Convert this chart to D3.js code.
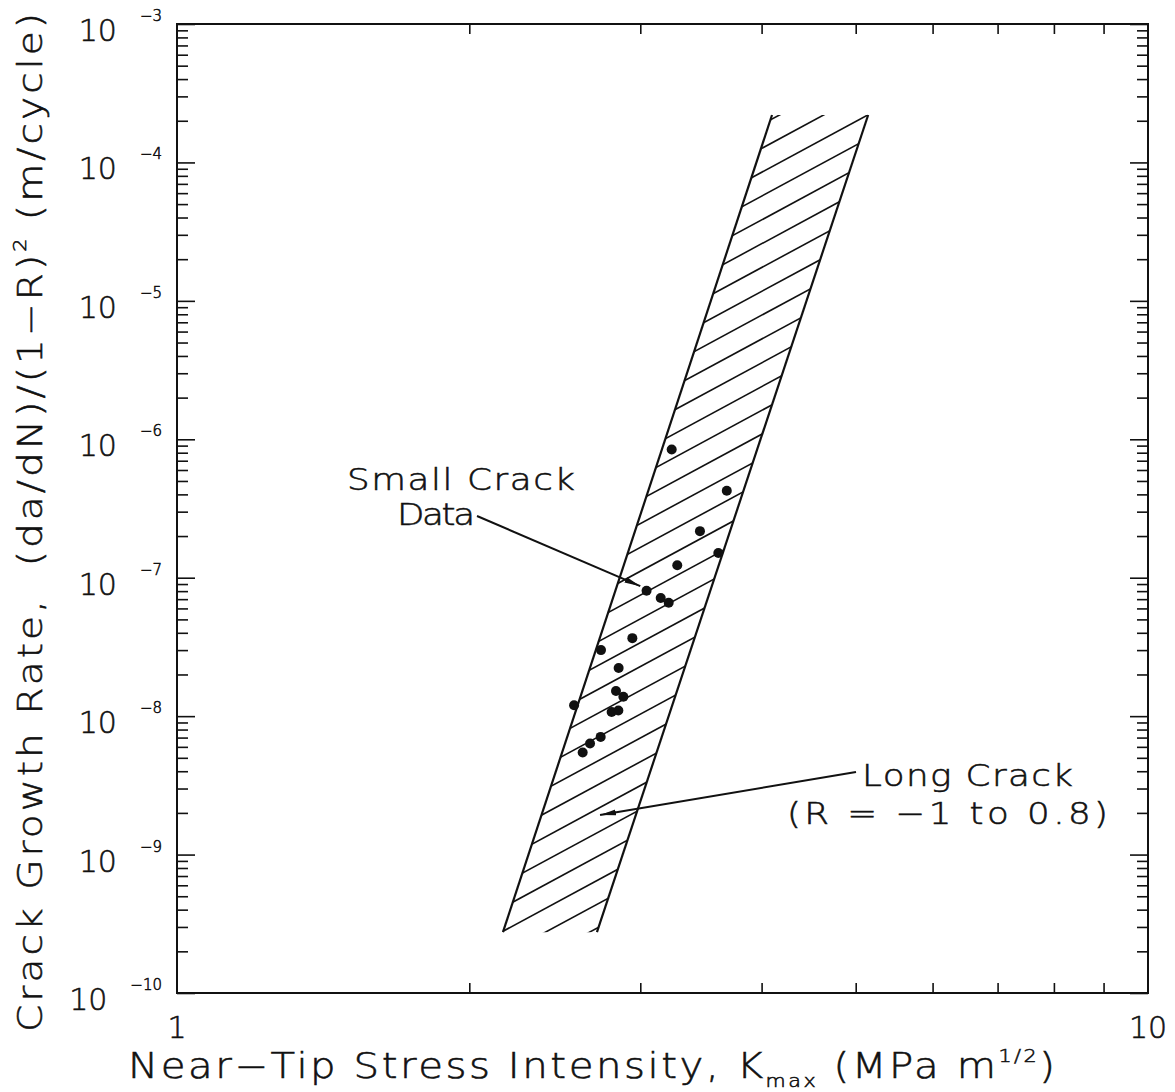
<!DOCTYPE html>
<html>
<head>
<meta charset="utf-8">
<script src="https://cdn.jsdelivr.net/npm/d3@7"></script>
<style>
  body { margin: 0; background: #fff; }
  svg text { font-family: "DejaVu Sans", sans-serif; font-weight: 200; fill: #111; stroke: #111; stroke-width: 0.55; white-space: pre; }
</style>
</head>
<body>
<svg id="chart" width="1175" height="1092"></svg>
<script>
// Small-crack measurements: near-tip K_max (MPa m^1/2) and normalised growth rate (m/cycle)
const smallCrackK = [3.232, 3.683, 3.456, 3.610, 3.275, 3.045, 3.149, 3.209, 2.944, 2.733,
                     2.850, 2.832, 2.882, 2.564, 2.803, 2.848, 2.731, 2.663, 2.617];
const smallCrackRate = [8.45e-7, 4.25e-7, 2.17e-7, 1.51e-7, 1.23e-7, 8.04e-8, 7.13e-8, 6.59e-8, 3.66e-8, 3.00e-8,
                        2.23e-8, 1.52e-8, 1.38e-8, 1.20e-8, 1.07e-8, 1.10e-8, 7.08e-9, 6.35e-9, 5.47e-9];

// Long-crack scatter band (R = -1 to 0.8): rate limits and the K of each boundary at those limits
const bandRate = [2.75e-10, 2.2e-4];
const bandLowerK = [2.166, 4.10];
const bandUpperK = [2.707, 5.15];

// Axis ticks
const xMajorTicks = [1, 10];
const xTickLabels = ["1", "10"];
const xMinorTicks = [2, 3, 4, 5, 6, 7, 8, 9];
const yExponents = [-10, -9, -8, -7, -6, -5, -4, -3];
const yMantissas = [2, 3, 4, 5, 6, 7, 8, 9];

// Callout tips, in data units
const smallCrackTip = { K: 3.0, rate: 8.69e-8 };
const longCrackTip = { K: 2.727, rate: 1.93e-9 };

const svg = d3.select("#chart");
const plotL = 177, plotR = 1148, plotT = 24, plotB = 993;

const x = d3.scaleLog().domain([1, 10]).range([plotL, plotR]);
const y = d3.scaleLog().domain([1e-10, 1e-3]).range([plotB, plotT]);

const ink = "#111";
const widen = 1.15;   // horizontal stretch giving the wide plotter lettering

// ---- hatched band ----
const bandPts = [
  [x(bandLowerK[0]), y(bandRate[0])],
  [x(bandLowerK[1]), y(bandRate[1])],
  [x(bandUpperK[1]), y(bandRate[1])],
  [x(bandUpperK[0]), y(bandRate[0])]
];
const defs = svg.append("defs");
defs.append("clipPath").attr("id", "bandClip")
  .append("polygon").attr("points", bandPts.map(p => p.join(",")).join(" "));

// hatch: parallel strokes rising to the right, clipped to the band
const hatchSlope = -0.54, hatchGap = 23.82;
const hatchX = 545, hatchY = 813.3;
const hatchG = svg.append("g").attr("clip-path", "url(#bandClip)");
for (let k = -40; k <= 40; k++) {
  const c = hatchY + k * hatchGap;
  hatchG.append("line")
    .attr("x1", plotL).attr("y1", c + hatchSlope * (plotL - hatchX))
    .attr("x2", plotR).attr("y2", c + hatchSlope * (plotR - hatchX))
    .attr("stroke", ink).attr("stroke-width", 1.6);
}
// band boundaries
svg.append("line").attr("x1", bandPts[0][0]).attr("y1", bandPts[0][1])
  .attr("x2", bandPts[1][0]).attr("y2", bandPts[1][1]).attr("stroke", ink).attr("stroke-width", 2.2);
svg.append("line").attr("x1", bandPts[3][0]).attr("y1", bandPts[3][1])
  .attr("x2", bandPts[2][0]).attr("y2", bandPts[2][1]).attr("stroke", ink).attr("stroke-width", 2.2);

// ---- frame and ticks ----
svg.append("rect").attr("x", plotL).attr("y", plotT)
  .attr("width", plotR - plotL).attr("height", plotB - plotT)
  .attr("fill", "none").attr("stroke", ink).attr("stroke-width", 2);

function styleAxis(g) {
  g.select(".domain").remove();
  g.selectAll(".tick line").attr("stroke", ink).attr("stroke-width", 1.6);
  g.selectAll(".tick text").remove();
}
svg.append("g").attr("transform", `translate(0,${plotB})`)
  .call(d3.axisTop(x).tickValues(xMinorTicks).tickSize(10)).call(styleAxis);
svg.append("g").attr("transform", `translate(0,${plotT})`)
  .call(d3.axisBottom(x).tickValues(xMinorTicks).tickSize(10)).call(styleAxis);

const yMajor = yExponents.map(e => Math.pow(10, e));
const yMinor = [];
yExponents.slice(0, -1).forEach(e => yMantissas.forEach(m => yMinor.push(m * Math.pow(10, e))));

svg.append("g").attr("transform", `translate(${plotL},0)`)
  .call(d3.axisRight(y).tickValues(yMinor).tickSize(11)).call(styleAxis);
svg.append("g").attr("transform", `translate(${plotL},0)`)
  .call(d3.axisRight(y).tickValues(yMajor).tickSize(18)).call(styleAxis);
svg.append("g").attr("transform", `translate(${plotR},0)`)
  .call(d3.axisLeft(y).tickValues(yMinor).tickSize(11)).call(styleAxis);
svg.append("g").attr("transform", `translate(${plotR},0)`)
  .call(d3.axisLeft(y).tickValues(yMajor).tickSize(18)).call(styleAxis);

// ---- tick labels ----
xMajorTicks.forEach((v, i) => {
  svg.append("text").attr("x", x(v)).attr("y", 1038)
    .attr("text-anchor", "middle").attr("font-size", 30).text(xTickLabels[i]);
});
yExponents.forEach(e => {
  const g = svg.append("g").attr("transform", `translate(162,${y(Math.pow(10, e))})`);
  const ex = g.append("text").attr("x", 0).attr("y", -3).attr("text-anchor", "end")
    .attr("font-size", 15).text("\u2212" + Math.abs(e));
  const w = ex.node().getComputedTextLength();
  g.append("text").attr("x", -w - 23).attr("y", 17).attr("text-anchor", "end")
    .attr("font-size", 30).text("10");
});

// ---- axis titles ----
const xt = svg.append("text").attr("transform", `translate(128,1078) scale(${widen},1)`)
  .attr("font-size", 35).attr("textLength", 927 / widen).attr("lengthAdjust", "spacing");
xt.append("tspan").text("Near\u2212Tip Stress Intensity, K");
xt.append("tspan").attr("font-size", 18).attr("dy", 9).text("max");
xt.append("tspan").attr("dy", -9).text(" (MPa m");
xt.append("tspan").attr("font-size", 18).attr("dy", -16).text("1/2");
xt.append("tspan").attr("dy", 16).text(")");

const yt = svg.append("text").attr("transform", `translate(42,1032) rotate(-90) scale(${widen},1)`)
  .attr("font-size", 34).attr("textLength", 1019 / widen).attr("lengthAdjust", "spacing");
yt.append("tspan").text("Crack Growth Rate,  (da/dN)/(1\u2212R)");
yt.append("tspan").attr("font-size", 18).attr("dy", -16).text("2");
yt.append("tspan").attr("dy", 16).text(" (m/cycle)");

// ---- small-crack points ----
svg.append("g").selectAll("circle")
  .data(d3.zip(smallCrackK, smallCrackRate))
  .join("circle")
  .attr("cx", d => x(d[0])).attr("cy", d => y(d[1])).attr("r", 5)
  .attr("fill", ink);

// ---- callouts ----
defs.append("marker").attr("id", "head").attr("viewBox", "0 0 16 8")
  .attr("refX", 16).attr("refY", 4).attr("markerWidth", 16).attr("markerHeight", 8)
  .attr("markerUnits", "userSpaceOnUse").attr("orient", "auto")
  .append("path").attr("d", "M0,1 L16,4 L0,7 Z").attr("fill", ink);

svg.append("line").attr("x1", 477).attr("y1", 516)
  .attr("x2", x(smallCrackTip.K)).attr("y2", y(smallCrackTip.rate))
  .attr("stroke", ink).attr("stroke-width", 2).attr("marker-end", "url(#head)");
svg.append("line").attr("x1", 856).attr("y1", 772)
  .attr("x2", x(longCrackTip.K)).attr("y2", y(longCrackTip.rate))
  .attr("stroke", ink).attr("stroke-width", 2).attr("marker-end", "url(#head)");

function label(txt, xPos, yPos, len) {
  svg.append("text").attr("transform", `translate(${xPos},${yPos}) scale(${widen},1)`)
    .attr("font-size", 31)
    .attr("textLength", len / widen).attr("lengthAdjust", "spacing").text(txt);
}
label("Small Crack", 347, 490, 228);
label("Data", 397, 525, 78);
label("Long Crack", 862, 786, 211);
label("(R = \u22121 to 0.8)", 787, 824, 321);
</script>
</body>
</html>
